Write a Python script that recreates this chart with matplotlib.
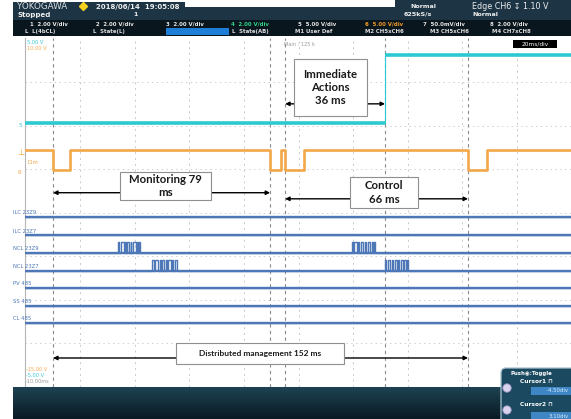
import numpy as np
import matplotlib
matplotlib.use("Agg")
import matplotlib.pyplot as plt
from matplotlib.patches import Rectangle, FancyBboxPatch, Circle

# ------------------------------------------------------------------ data
# time axis: 20 ms/div, 10 divisions (0..200 ms); vertical: 8 divisions
cursor_times = [10.1, 89.6, 95.1, 131.7, 162.1]            # ms

cyan_t = [0.0, 131.7, 200.0]
cyan_v = [6.05, 7.62, 7.62]

orange_t = [0.0, 10.1, 16.3, 89.6, 93.6, 95.1, 102.1, 162.1, 169.1, 200.0]
orange_v = [5.44, 4.97, 5.44, 4.97, 5.44, 4.97, 5.44, 4.97, 5.44, 5.44]

bus_names = ["ILC 23Z9", "ILC 23Z7", "NCL 23Z9", "NCL 23Z7", "PV 485", "SS 485", "CL 485"]
bus_levels = [3.90, 3.48, 3.08, 2.67, 2.27, 1.87, 1.47]
bus_high = [0.0, 0.0, 0.24, 0.25, 0.0, 0.0, 0.0]

ncl_23z9_pulses = [(33.9, 34.3), (34.8, 35.9), (36.4, 36.7), (37.2, 38.0),
                   (38.5, 38.8), (39.3, 40.4), (40.9, 41.2), (41.6, 42.0),
                   (119.6, 120.0), (120.4, 121.3), (121.9, 122.3), (123.0, 123.6),
                   (124.3, 124.6), (125.3, 126.1), (126.8, 127.2), (127.7, 128.1)]
ncl_23z7_pulses = [(46.5, 47.0), (47.5, 48.6), (49.1, 49.5), (50.0, 50.9),
                   (51.4, 51.8), (52.3, 53.3), (53.8, 54.2), (54.8, 55.4),
                   (131.8, 132.2), (132.7, 133.6), (134.1, 134.5), (135.2, 135.9),
                   (136.5, 136.9), (137.4, 138.3), (138.8, 139.2), (139.7, 140.2)]
bus_pulses = [[], [], ncl_23z9_pulses, ncl_23z7_pulses, [], [], []]

phase_labels = ["Monitoring 79\nms", "Immediate\nActions\n36 ms",
                "Control\n66 ms", "Distributed management 152 ms"]
phase_spans = [(cursor_times[0], cursor_times[1]),
               (cursor_times[2], cursor_times[3]),
               (cursor_times[2], cursor_times[4]),
               (cursor_times[0], cursor_times[4])]

header_row1 = [("1  2.00 V/div", "#e6e6e6"), ("2  2.00 V/div", "#e6e6e6"),
               ("3  2.00 V/div", "#e6e6e6"), ("4  2.00 V/div", "#2fd08a"),
               ("5  5.00 V/div", "#e6e6e6"), ("6  5.00 V/div", "#f39a2a"),
               ("7  50.0mV/div", "#e6e6e6"), ("8  2.00 V/div", "#e6e6e6")]
header_row2 = ["L  L(4bCL)", "L  State(L)", "", "L  State(AB)",
               "M1 User Def", "M2 CH5xCH6", "M3 CH5xCH6", "M4 CH7xCH8"]

# ------------------------------------------------------------------ figure
W, H = 571, 419
fig = plt.figure(figsize=(W / 100, H / 100), dpi=100, facecolor="white")

# screen axes (pixel 25.5..571.5 horizontally, 38.5..387 vertically)
ax = fig.add_axes([25.5 / W, (H - 387) / H, 546 / W, (387 - 38.5) / H])
ax.set_xlim(0, 200)
ax.set_ylim(0, 8)
ax.set_facecolor("white")
for s in ["top", "right", "bottom"]:
    ax.spines[s].set_visible(False)
ax.spines["left"].set_color("#b5b5b5")
ax.spines["left"].set_linewidth(0.8)
ax.set_xticks([])
ax.set_yticks([])

# graticule
ax.vlines(np.arange(20, 200, 20), 0, 8, colors="#c9c9c9", lw=0.7,
          linestyles=(0, (2, 4)), zorder=1)
ax.hlines(np.arange(1, 8), 0, 200, colors="#cfcfcf", lw=0.7,
          linestyles=(0, (1.5, 3.5)), zorder=1)
# cursors
ax.vlines(cursor_times, 0, 8, colors="#8a8a8a", lw=0.8,
          linestyles=(0, (3, 3)), zorder=2)

# analog traces
ax.plot(cyan_t, cyan_v, drawstyle="steps-post", color="#2cc9d3", lw=0.8,
        zorder=3)
ax.hlines(cyan_v[:-1], cyan_t[:-1], cyan_t[1:], colors="#2cc9d3", lw=2.6,
          zorder=3)
ax.plot(orange_t, orange_v, drawstyle="steps-post", color="#f2a748", lw=1.9,
        zorder=3)

# bus traces
for lvl, hi, pulses in zip(bus_levels, bus_high, bus_pulses):
    t = [0.0]
    v = [lvl]
    for s, e in pulses:
        t += [s, e]
        v += [lvl + hi, lvl]
    t.append(200.0)
    v.append(lvl)
    ax.plot(t, v, drawstyle="steps-post", color="#4d77b6", lw=1.0, zorder=3)
    ax.plot([0, 200], [lvl, lvl], color="#4d77b6", lw=1.7, zorder=3)

# phase annotations
arrow_y = [4.46, 6.50, 4.32, 0.666]
boxes = [(34.7, 4.29, 33.1, 0.65), (98.4, 6.22, 26.7, 1.31),
         (118.9, 4.11, 24.9, 0.71), (55.1, 0.53, 61.6, 0.48)]
fsizes = [8.2, 8.2, 8.2, 6.0]
for (t0, t1), y, (bx, by, bw, bh), lab, fs in zip(phase_spans, arrow_y, boxes,
                                                  phase_labels, fsizes):
    ax.annotate("", xy=(t1, y), xytext=(t0, y),
                arrowprops=dict(arrowstyle="<|-|>", color="black", lw=1.0,
                                mutation_scale=6, shrinkA=0, shrinkB=0),
                zorder=4)
    ax.add_patch(Rectangle((bx, by), bw, bh, fc="white", ec="#8f8f8f",
                           lw=0.8, zorder=5))
    ax.text(bx + bw / 2, by + bh / 2, lab, ha="center", va="center",
            fontsize=fs, fontweight="bold", family="Lato", color="#1a1a1a",
            linespacing=1.25, zorder=6)

# ------------------------------------------------------------------ overlay (pixel coords)
ov = fig.add_axes([0, 0, 1, 1], zorder=5)
ov.set_xlim(0, W)
ov.set_ylim(H, 0)
ov.axis("off")
ov.patch.set_alpha(0)

# header
ov.add_patch(Rectangle((13, 2), 172, 18, fc="#1c3444", ec="none"))
ov.add_patch(Rectangle((185, 7), 210, 13, fc="#1c3444", ec="none"))
ov.add_patch(Rectangle((395, 0), 176, 20, fc="#1c3444", ec="none"))
ov.add_patch(Rectangle((13, 20), 558, 16.5, fc="#0a161d", ec="none"))
ov.add_patch(Rectangle((166, 28), 63, 7, fc="#1f7fd6", ec="none"))

ov.text(17, 6.5, "YOKOGAWA", color="#d8dde0", fontsize=6.3, va="center",
        family="DejaVu Sans")
ov.plot([83], [6.5], marker="D", color="#f4d21f", ms=4.5)
ov.text(96, 6.5, "2018/06/14  19:05:08", color="#eeeeee", fontsize=5,
        fontweight="bold", va="center")
ov.text(17, 14.5, "Stopped", color="#eeeeee", fontsize=5, fontweight="bold",
        va="center")
ov.text(133, 14.5, "1", color="#eeeeee", fontsize=4.5, fontweight="bold",
        va="center")
ov.text(410, 6, "Normal", color="#eeeeee", fontsize=4.6, fontweight="bold",
        va="center")
ov.text(404, 14, "625kS/s", color="#eeeeee", fontsize=4.6, fontweight="bold",
        va="center")
ov.text(472, 6.5, "Edge CH6 \u21a7 1.10 V", color="#eeeeee", fontsize=5.8,
        va="center", family=["DejaVu Sans"])
ov.text(472, 14, "Normal", color="#eeeeee", fontsize=4.6, fontweight="bold",
        va="center")

row_x = [30, 96, 166, 231, 298, 365, 423, 490]
row2_x = [25, 93, 166, 232, 295, 365, 430, 492]
for (txt, col), x in zip(header_row1, row_x):
    ov.text(x, 24.5, txt, color=col, fontsize=3.9, fontweight="bold",
            va="center")
for txt, x in zip(header_row2, row2_x):
    if txt:
        ov.text(x, 31.5, txt, color="#dddddd", fontsize=3.9,
                fontweight="bold", va="center")

# small screen labels
ov.text(27, 42.5, "5.00 V", color="#33c9d3", fontsize=3.6, va="center")
ov.text(27, 48.5, "10.00 V", color="#f2a748", fontsize=3.6, va="center")
ov.text(284, 45, "Main : 125 k", color="#9a9a9a", fontsize=3.6, va="center")
ov.add_patch(Rectangle((513, 40), 44, 8, fc="black", ec="none"))
ov.text(535, 44, "20ms/div", color="white", fontsize=4.2, ha="center",
        va="center")

ov.text(19, 125, "5", color="#33c9d3", fontsize=4.2, va="center")
ov.text(17, 152, "\u22a5", color="#f2a748", fontsize=6, va="center")
ov.text(27, 162.5, "Dim", color="#f2a748", fontsize=3.8, va="center")
ov.text(18, 172, "6", color="#f2a748", fontsize=4.2, va="center")

bus_px = [217.3, 235.7, 252.7, 270.7, 288.0, 305.7, 323.3]
for name, py in zip(bus_names, bus_px):
    ov.text(13, py - 4.5, name, color="#4d77b6", fontsize=3.8, va="center")

ov.text(26, 369, "-15.00 V", color="#f2a748", fontsize=3.6, va="center")
ov.text(26, 375, "-5.00 V", color="#33c9d3", fontsize=3.6, va="center")
ov.text(26, 381, "-10.00ms", color="#9a9a9a", fontsize=3.6, va="center")

# bottom band gradient
grad = np.linspace(0, 1, 64).reshape(-1, 1)
cmap = matplotlib.colors.LinearSegmentedColormap.from_list(
    "band", ["#1e4252", "#0a1a24"])
ov.imshow(grad, extent=(13, W, H, 387), cmap=cmap, aspect="auto",
          zorder=1)
ov.set_xlim(0, W)
ov.set_ylim(H, 0)

# cursor panel
ov.add_patch(FancyBboxPatch((501, 368), 80, 60,
                            boxstyle="round,pad=0,rounding_size=5",
                            fc="#1b4a60", ec="#a9c2d0", lw=0.9, zorder=3))
ov.text(531, 373.5, "Push\u25c9:Toggle", color="white", fontsize=3.9,
        fontweight="bold", ha="center", va="center", zorder=4)
ov.text(520, 381, "Cursor1 \u2293", color="white", fontsize=4.2,
        fontweight="bold", va="center", zorder=4)
ov.add_patch(Rectangle((531, 387), 40, 7.5, fc="#3f86c4", ec="none", zorder=4))
ov.text(569, 390.8, "-4.50div", color="#d8ecff", fontsize=3.9, ha="right",
        va="center", zorder=5)
ov.text(520, 404.5, "Cursor2 \u2293", color="white", fontsize=4.2,
        fontweight="bold", va="center", zorder=4)
ov.add_patch(Rectangle((531, 412), 40, 7.5, fc="#3f86c4", ec="none", zorder=4))
ov.text(569, 416, "3.10div", color="#d8ecff", fontsize=3.9, ha="right",
        va="center", zorder=5)
for cy in (388, 410):
    ov.add_patch(Circle((507, cy), 4.2, fc="#d9d3ee", ec="#9a90c0", lw=0.6,
                        zorder=4))

fig.savefig("out.png", dpi=100, facecolor="white")
